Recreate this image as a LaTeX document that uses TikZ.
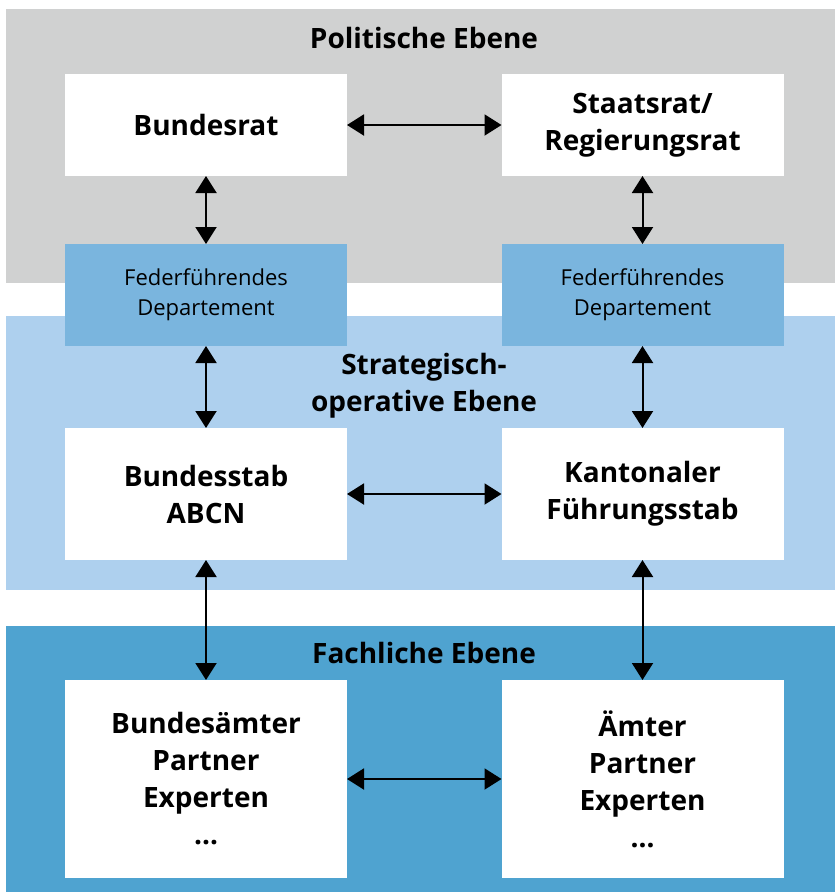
\documentclass[tikz,border=0pt]{standalone}
\usepackage{fontspec}
\setmainfont{Open Sans}
\usetikzlibrary{arrows.meta,positioning}
\definecolor{bandgray}{RGB}{208,209,209}
\definecolor{bandlight}{RGB}{174,208,238}
\definecolor{banddark}{RGB}{79,163,208}
\definecolor{deptblue}{RGB}{122,181,222}
\tikzset{main box/.style={rectangle,fill=white,minimum width=282pt,minimum height=102pt,inner sep=0pt,outer sep=0pt,
            align=center,font=\fontsize{28}{37}\selectfont\bfseries},
         dept box/.style={main box,fill=deptblue,font=\fontsize{22}{30}\selectfont},
         level label/.style={rectangle,draw=none,fill=none,inner sep=0pt,align=center,font=\fontsize{28}{37}\selectfont\bfseries},
         both arrow/.style={{Triangle[length=17pt,width=21pt]}-{Triangle[length=17pt,width=21pt]},line width=2pt,black},
}
\begin{document}
\begin{tikzpicture}[x=1pt,y=-1pt]
\useasboundingbox (0,0) rectangle (835,892);
% levels
\fill[bandgray] (6,9) rectangle (835,283);
\fill[bandlight] (6,316) rectangle (835,590);
\fill[banddark] (6,626) rectangle (835,892);
\node[level label] (polit) at (424,38) {Politische Ebene};
\node[level label] (strat) at (424,386) {Strategisch-\\operative Ebene};
\node[level label] (fach) at (424,653) {Fachliche Ebene};
% boxes
\node[main box] (bundesrat) at (206,125) {Bundesrat};
\node[main box] (staatsrat) at (642.5,125) {Staatsrat/\\Regierungsrat};
\node[dept box] (deptL) at (206,295) {Federführendes\\Departement};
\node[dept box] (deptR) at (642.5,295) {Federführendes\\Departement};
\node[main box,minimum height=132pt] (bstab) at (206,494) {Bundesstab\\ABCN};
\node[main box,minimum height=132pt] (kfs) at (642.5,494) {Kantonaler\\Führungsstab};
\node[main box,minimum height=198pt] (baemter) at (206,779) {Bundesämter\\Partner\\Experten\\\dots};
\node[main box,minimum height=198pt] (aemter) at (642.5,779) {Ämter\\Partner\\Experten\\\dots};
% connections
\draw[both arrow] (bundesrat) -- (staatsrat);
\draw[both arrow] (bstab) -- (kfs);
\draw[both arrow] (baemter) -- (aemter);
\draw[both arrow] (bundesrat) -- (deptL);
\draw[both arrow] (deptL) -- (bstab);
\draw[both arrow] (bstab) -- (baemter);
\draw[both arrow] (staatsrat) -- (deptR);
\draw[both arrow] (deptR) -- (kfs);
\draw[both arrow] (kfs) -- (aemter);
\end{tikzpicture}
\end{document}
